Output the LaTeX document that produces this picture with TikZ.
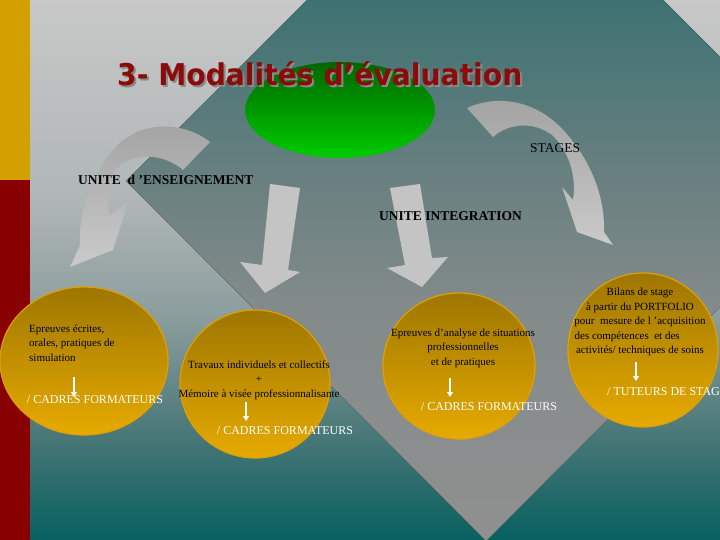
\documentclass[tikz,border=0pt]{standalone}
\usepackage{fontspec}
\setmainfont{Liberation Serif}
\newfontfamily\titlefont{DejaVu Sans}
\usetikzlibrary{shapes.geometric,arrows.meta}

\definecolor{bgA}{HTML}{C8C8C8}
\definecolor{bgB}{HTML}{B0B6B6}
\definecolor{bgC}{HTML}{8A9C9C}
\definecolor{bgD}{HTML}{467676}
\definecolor{bgE}{HTML}{086060}
\definecolor{dmA}{HTML}{2A6868}
\definecolor{dmB}{HTML}{3E7272}
\definecolor{dmC}{HTML}{6A8080}
\definecolor{dmD}{HTML}{828A8A}
\definecolor{dmE}{HTML}{909090}
\definecolor{barYellow}{HTML}{D4A000}
\definecolor{barRed}{HTML}{880000}
\definecolor{titleRed}{HTML}{8B0A0A}
\definecolor{titleShadow}{HTML}{8A8A8A}
\definecolor{ovalTop}{HTML}{006600}
\definecolor{ovalBot}{HTML}{00CC00}
\definecolor{goldTop}{HTML}{9E7600}
\definecolor{goldBot}{HTML}{E6AA00}
\definecolor{goldRim}{HTML}{E0A000}
\definecolor{arrowDark}{HTML}{A2A2A2}
\definecolor{arrowLight}{HTML}{CACACA}
\definecolor{arrowFlat}{HTML}{C4C4C4}

\pgfdeclareverticalshading{bgshade}{100bp}{color(0bp)=(bgE); color(25bp)=(bgE);
  color(34.3bp)=(bgD); color(45.4bp)=(bgC); color(56.5bp)=(bgB); color(75bp)=(bgA); color(100bp)=(bgA)}
\pgfdeclareverticalshading{diamondshade}{100bp}{color(0bp)=(dmE); color(25bp)=(dmE);
  color(41.8bp)=(dmD); color(50.1bp)=(dmC); color(62.6bp)=(dmB); color(75bp)=(dmA); color(100bp)=(dmA)}

\tikzset{
  goldell/.style={ellipse, draw=goldRim, line width=1.2pt, top color=goldTop, bottom color=goldBot, inner sep=0pt},
  inbox/.style={text=black, font=\fontsize{11}{14.5}\selectfont, inner sep=0pt},
  whitelbl/.style={text=white, font=\fontsize{12}{14}\selectfont, inner sep=0pt},
  unitlbl/.style={text=black, font=\bfseries\fontsize{13.5}{16}\selectfont, inner sep=0pt, anchor=base west},
  warrow/.style={white, line width=1.6pt, -{Triangle[width=6pt,length=5pt]}},
  bentarrow/.style={draw=none, top color=arrowDark, bottom color=arrowLight},
  straightarrow/.style={draw=none, fill=arrowFlat},
}

\begin{document}
\begin{tikzpicture}[x=1pt,y=-1pt]
  \useasboundingbox (0,0) rectangle (720,540);
  \clip (0,0) rectangle (720,540);
  % background
  \fill[shading=bgshade] (0,0) rectangle (720,540);
  \fill[shading=diamondshade] (485,-178) -- (845,182) -- (486,541) -- (126,181) -- cycle;
  \fill[barYellow] (0,0) rectangle (30,180);
  \fill[barRed] (0,180) rectangle (30,540);

  % oval and title
  \node[ellipse, minimum width=190pt, minimum height=96pt, inner sep=0pt,
        top color=ovalTop, bottom color=ovalBot] (oval) at (340,110) {};
  \node[anchor=base west, text=titleShadow, font=\titlefont\bfseries\fontsize{30}{34}\selectfont,
        xscale=0.94, inner sep=0pt] (titleshadow) at (119,88) {3- Modalités d’évaluation};
  \node[anchor=base west, text=titleRed, font=\titlefont\bfseries\fontsize{30}{34}\selectfont,
        xscale=0.94, inner sep=0pt] (title) at (117,86) {3- Modalités d’évaluation};

  % bent arrows
  \shade[bentarrow] (210,142) .. controls (185,122) and (140,118) .. (113,150)
    .. controls (90,180) and (78,215) .. (80,245) -- (70,267) -- (113,250) -- (128,202)
    -- (110,215) .. controls (104,190) and (110,170) .. (125,162)
    .. controls (145,152) and (168,157) .. (183,170) -- cycle;
  \shade[bentarrow] (467,108) .. controls (495,95) and (535,98) .. (565,132)
    .. controls (590,160) and (605,195) .. (604,232) -- (613,245) -- (577,232) -- (562,187)
    -- (573,200) .. controls (577,175) and (568,150) .. (552,135)
    .. controls (535,122) and (510,122) .. (493,137) -- cycle;
  % straight arrows
  \fill[straightarrow] (270,184) -- (300,188) -- (288,270) -- (300,272) -- (265,293) -- (240,262) -- (262,265) -- cycle;
  \fill[straightarrow] (390,188) -- (420,184) -- (432,258) -- (448,257) -- (422,287) -- (387,268) -- (405,265) -- cycle;

  % labels
  \node[unitlbl] (ue) at (78,185) {UNITE\ \ d ’ENSEIGNEMENT};
  \node[unitlbl, font=\fontsize{13.5}{16}\selectfont] (stages) at (530,153) {STAGES};
  \node[unitlbl] (ui) at (379,221) {UNITE INTEGRATION};

  % gold ellipses
  \node[goldell, minimum width=168pt, minimum height=148pt] (e1) at (84,361) {};
  \node[goldell, minimum width=150pt, minimum height=148pt] (e2) at (255,384) {};
  \node[goldell, minimum width=152pt, minimum height=146pt] (e3) at (459,366) {};
  \node[goldell, minimum width=150pt, minimum height=154pt] (e4) at (643,350) {};

  \node[inbox, anchor=west, align=left] (t1) at (29,343) {Epreuves écrites,\\orales, pratiques de\\simulation};
  \node[inbox, align=center] (t2) at (259,380) {Travaux individuels et collectifs\\+\\Mémoire à visée professionnalisante};
  \node[inbox, align=center] (t3) at (463,348) {Epreuves d’analyse de situations\\professionnelles\\et de pratiques};
  \node[inbox, align=center] (t4) at (640,322) {Bilans de stage\\à partir du PORTFOLIO\\pour\ \ mesure de l ’acquisition\\des compétences\ \ et des\hphantom{mmm}\\activités/ techniques de soins};

  \node[whitelbl] (w1) at (95,400) {/ CADRES FORMATEURS};
  \node[whitelbl] (w2) at (285,431) {/ CADRES FORMATEURS};
  \node[whitelbl] (w3) at (489,407) {/ CADRES FORMATEURS};
  \node[whitelbl, anchor=west] (w4) at (607,392) {/ TUTEURS DE STAGE};

  % small white arrows
  \coordinate (a1s) at (74,377); \coordinate (a1e) at (74,397);
  \coordinate (a2s) at (246,402); \coordinate (a2e) at (246,421);
  \coordinate (a3s) at (450,378); \coordinate (a3e) at (450,397);
  \coordinate (a4s) at (636,362); \coordinate (a4e) at (636,381);
  \draw[warrow] (a1s) -- (a1e);
  \draw[warrow] (a2s) -- (a2e);
  \draw[warrow] (a3s) -- (a3e);
  \draw[warrow] (a4s) -- (a4e);
\end{tikzpicture}
\end{document}
